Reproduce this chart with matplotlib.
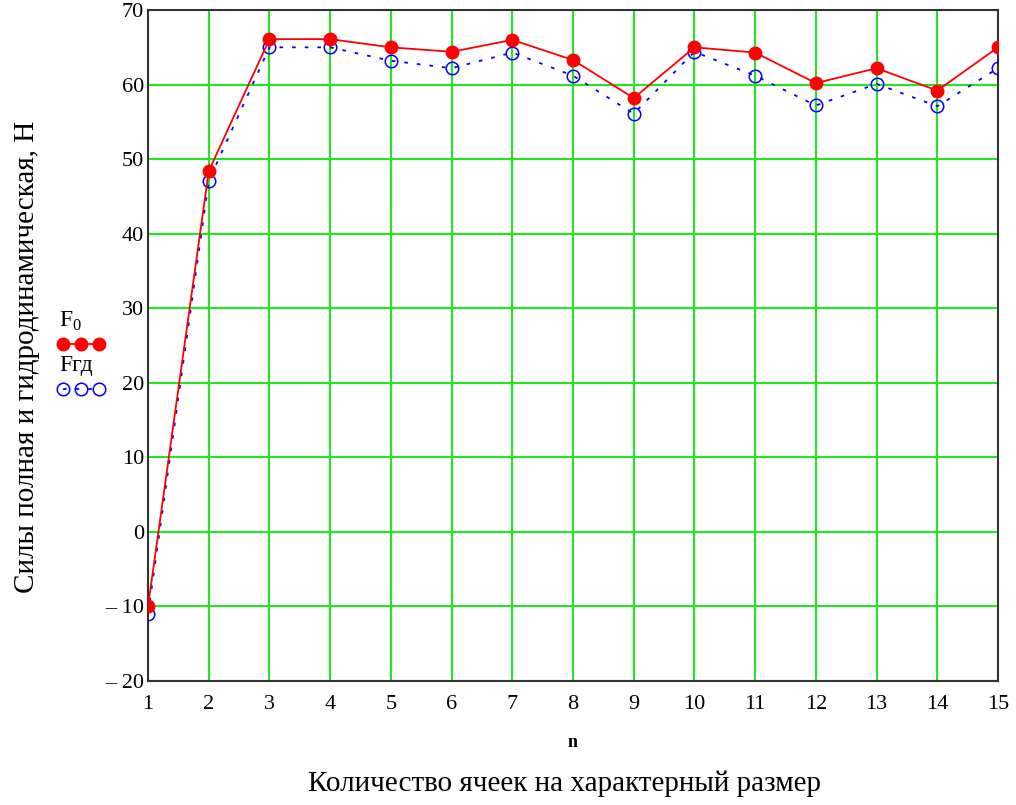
import matplotlib.pyplot as plt
from matplotlib.lines import Line2D

plt.rcParams['font.family'] = ['Liberation Serif', 'DejaVu Serif']
plt.rcParams['mathtext.fontset'] = 'custom'
plt.rcParams['mathtext.rm'] = 'Liberation Serif'

n = [1, 2, 3, 4, 5, 6, 7, 8, 9, 10, 11, 12, 13, 14, 15]
F0 = [-10, 48.4, 66.1, 66.1, 65.0, 64.4, 66.0, 63.3, 58.2, 65.0, 64.3, 60.2, 62.2, 59.2, 65.0]
Fgd = [-11, 47.1, 65.0, 65.0, 63.2, 62.2, 64.3, 61.2, 56.1, 64.4, 61.2, 57.2, 60.1, 57.1, 62.2]

yticks = list(range(-20, 71, 10))
ytick_labels = ['\u2013 20' if v == -20 else ('\u2013 10' if v == -10 else str(v)) for v in yticks]

fig = plt.figure(figsize=(10.16, 8.05), dpi=100)
ax = fig.add_axes([0.1457, 0.154, 0.8366, 0.8335])

green = '#22e622'
ax.plot(n, F0, '-', color='red', lw=1.3, marker='o', ms=9, mfc='red', mec='red', zorder=4)
ax.plot(n, Fgd, linestyle=(0, (2, 5)), color='blue', lw=1.3, marker='o', ms=9,
        mfc='none', mec='blue', mew=1.1, zorder=3)

ax.set_xlim(1, 15)
ax.set_ylim(-20, 70)
ax.set_xticks(n)
ax.set_yticks(yticks)
ax.set_yticklabels(ytick_labels)
ax.grid(True, color=green, lw=1.5)
ax.set_axisbelow(True)
ax.tick_params(length=0, labelsize=16)
ax.tick_params(axis='x', pad=10)
ax.tick_params(axis='y', pad=3)
for s in ax.spines.values():
    s.set_color('#333333')
    s.set_linewidth(1.5)

ax.set_ylabel('Силы полная и гидродинамическая, Н', fontsize=21)
ax.yaxis.set_label_coords(-0.127, 0.483)
fig.text(0.564, 0.078, 'n', ha='center', va='center', fontsize=13, fontweight='bold')
fig.text(0.556, 0.027, 'Количество ячеек на характерный размер', ha='center', va='center', fontsize=21)

# legend drawn in figure coordinates, left of the axes
fig.text(0.058, 0.601, 'F$_{\\mathrm{0}}$', fontsize=17, ha='left', va='center')
fig.add_artist(Line2D([0.062, 0.080, 0.097], [0.573, 0.573, 0.573], transform=fig.transFigure,
                      color='red', lw=1.3, marker='o', ms=9, mfc='red', mec='red'))
fig.text(0.058, 0.546, 'Fгд', fontsize=17, ha='left', va='center')
fig.add_artist(Line2D([0.062, 0.080, 0.097], [0.517, 0.517, 0.517], transform=fig.transFigure,
                      color='blue', lw=1.3, linestyle=(0, (2, 5)), marker='o', ms=9,
                      mfc='none', mec='blue', mew=1.1))

fig.savefig('out.png', dpi=100)
